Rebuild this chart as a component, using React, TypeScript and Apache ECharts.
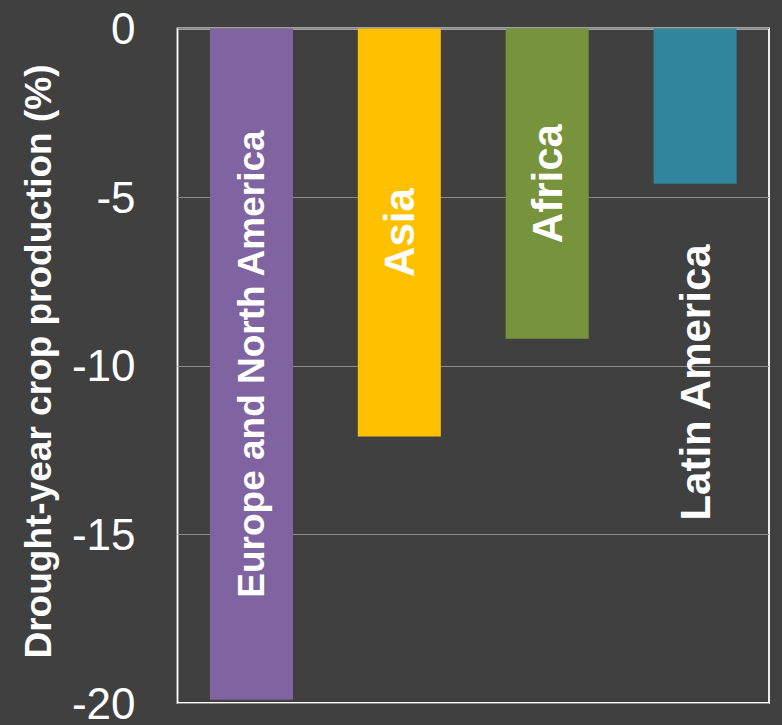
import React, { useEffect, useRef } from "react";
import * as echarts from "echarts";

const categories = ["Europe and North America", "Asia", "Africa", "Latin America"];
const values = [-19.9, -12.1, -9.2, -4.6];
const barColors = ["#8064A2", "#FFC000", "#77933C", "#31859C"];
const yTicks = [0, -5, -10, -15, -20];
const yTitle = "Drought-year crop production (%)";

const FONT = "'Liberation Sans', Arial, Helvetica, sans-serif";

export default function App() {
  const ref = useRef<HTMLDivElement>(null);
  useEffect(() => {
    if (!ref.current) return;
    const chart = echarts.init(ref.current, null, { renderer: "svg" });
    const data = values.map((v, i) => {
      const item: any = {
        value: v,
        itemStyle: { color: barColors[i] },
        label: {
          show: true,
          formatter: categories[i],
          rotate: 90,
          color: "#ffffff",
          fontWeight: "bold",
          fontFamily: FONT,
          fontSize: i === 0 ? 37 : 42,
          position: "inside",
          align: "center",
          verticalAlign: "middle",
        },
      };
      if (i === 3) {
        item.label.position = [41.5, 354];
      }
      return item;
    });
    chart.setOption({
      animation: false,
      backgroundColor: "#404040",
      grid: {
        left: 177.5,
        top: 28.5,
        right: 13,
        bottom: 18.5,
        show: true,
        borderColor: "#ffffff",
        borderWidth: 1.8,
        containLabel: false,
      },
      xAxis: {
        type: "category",
        data: categories,
        axisLabel: { show: false },
        axisTick: { show: false },
        axisLine: { show: false },
        splitLine: { show: false },
      },
      yAxis: {
        type: "value",
        min: -20,
        max: 0,
        interval: 5,
        axisLine: { show: false },
        axisTick: { show: false },
        axisLabel: {
          color: "#ffffff",
          fontSize: 44,
          fontFamily: FONT,
          margin: 42,
          formatter: (v: number) => (yTicks.includes(v) ? String(v) : ""),
        },
        splitLine: { show: true, lineStyle: { color: "#8c8c8c", width: 1.2 } },
      },
      graphic: [
        {
          type: "text",
          x: 38.5,
          y: 361.5,
          rotation: Math.PI / 2,
          style: {
            text: yTitle,
            fill: "#ffffff",
            font: `bold 37px ${FONT}`,
            align: "center",
            verticalAlign: "middle",
          },
        },
      ],
      series: [
        {
          type: "bar",
          data,
          barWidth: 83,
        },
      ],
    });
    return () => chart.dispose();
  }, []);
  return (
    <div
      ref={ref}
      style={{ position: "fixed", left: 0, top: 0, width: 782, height: 725 }}
    />
  );
}
